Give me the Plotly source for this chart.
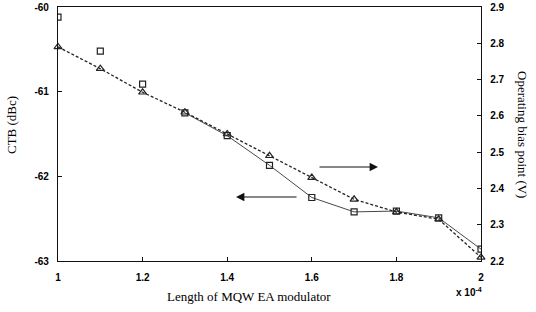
import plotly.graph_objects as go

length = [1.0, 1.1, 1.2, 1.3, 1.4, 1.5, 1.6, 1.7, 1.8, 1.9, 2.0]
ctb = [-60.12, -60.52, -60.91, -61.25, -61.52, -61.87, -62.25, -62.42, -62.41, -62.49, -62.86]
bias = [2.79, 2.73, 2.665, 2.61, 2.55, 2.49, 2.43, 2.37, 2.335, 2.315, 2.21]
ctb_line_start = 3  # squares connected from 1.3 onward

xticks = [1, 1.2, 1.4, 1.6, 1.8, 2]
xticklabels = ["1", "1.2", "1.4", "1.6", "1.8", "2"]
yticks = [-63, -62, -61, -60]
yticklabels = ["-63", "-62", "-61", "-60"]
y2ticks = [2.2, 2.3, 2.4, 2.5, 2.6, 2.7, 2.8, 2.9]
y2ticklabels = ["2.2", "2.3", "2.4", "2.5", "2.6", "2.7", "2.8", "2.9"]

tickfont = dict(family="Liberation Sans", size=10, color="#000", weight="bold")
serif = dict(family="Liberation Serif", size=13, color="#000")

fig = go.Figure()
fig.add_trace(go.Scatter(x=length, y=ctb, mode="markers",
                         marker=dict(symbol="square-open", size=6, color="#222", line=dict(width=1.2)),
                         showlegend=False))
fig.add_trace(go.Scatter(x=length[ctb_line_start:], y=ctb[ctb_line_start:], mode="lines",
                         line=dict(color="#333", width=0.9, dash="solid"), showlegend=False))
fig.add_trace(go.Scatter(x=length, y=bias, mode="lines+markers", yaxis="y2",
                         line=dict(color="#222", width=1.3, dash="3px,2px"),
                         marker=dict(symbol="triangle-up-open", size=7, color="#222", line=dict(width=1.2)),
                         showlegend=False, cliponaxis=False))

axis_common = dict(showline=True, linecolor="#111", linewidth=1.3, ticks="inside",
                   ticklen=4, tickcolor="#111", showgrid=False, zeroline=False, tickfont=tickfont,
                   automargin=False)

pw, ph = 536 - 58 - 55, 312 - 7 - 51
def px(x): return (x - 58) / pw
def py(y): return (312 - 51 - y) / ph

fig.update_layout(
    width=536, height=312,
    margin=dict(l=58, r=55, t=7, b=51),
    paper_bgcolor="white", plot_bgcolor="white",
    xaxis=dict(range=[1, 2], tickvals=xticks, ticktext=xticklabels, mirror=True,
               ticklabelstandoff=7, **axis_common),
    yaxis=dict(range=[-63, -60], tickvals=yticks, ticktext=yticklabels,
               ticklabelstandoff=6, **axis_common),
    yaxis2=dict(range=[2.2, 2.9], tickvals=y2ticks, ticktext=y2ticklabels, overlaying="y",
                side="right", ticklabelstandoff=6, **axis_common),
)

def label(text, x, y, font, angle=0):
    fig.add_annotation(text=text, x=px(x), y=py(y), xref="paper", yref="paper",
                       xanchor="center", yanchor="middle", showarrow=False,
                       textangle=angle, font=font)

label("CTB (dBc)", 12, 125, serif, -90)
label("Length of MQW EA modulator", 249, 296, serif)
label("Operating bias point (V)", 523, 134, serif, 90)
label("x 10<sup>-4</sup>", 469, 292, tickfont)

# arrows (tail offset in pixels)
fig.add_annotation(x=px(378), y=py(167), ax=-60, ay=0, xref="paper", yref="paper",
                   showarrow=True, arrowhead=2, arrowsize=1.4,
                   arrowwidth=1.2, arrowcolor="#111", text="")
fig.add_annotation(x=px(236), y=py(197), ax=62, ay=0, xref="paper", yref="paper",
                   showarrow=True, arrowhead=2, arrowsize=1.4,
                   arrowwidth=1.2, arrowcolor="#111", text="")

fig.write_html("out.html", config={"displayModeBar": False},
               post_script="document.body.style.margin='0px';")
